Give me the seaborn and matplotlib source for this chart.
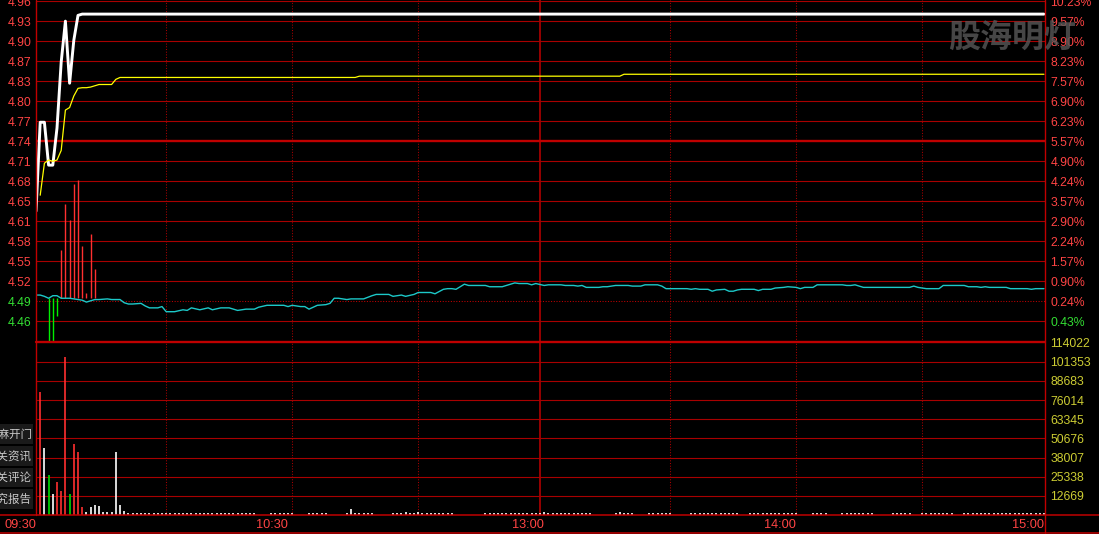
import numpy as np
import pandas as pd
import matplotlib
matplotlib.use("Agg")
import matplotlib.pyplot as plt
import matplotlib.transforms as mtransforms
from matplotlib.lines import Line2D
from matplotlib.patches import Rectangle
import seaborn as sns

# ------------------------------------------------------------------ data
# minute index: 0 = 09:30 ... 120 = 11:30/13:00 ... 240 = 15:00
price_min = [0, 1, 2, 3, 4, 5, 6, 7, 8, 9, 10, 11, 240]
price_val = [4.632, 4.771, 4.771, 4.704, 4.704, 4.762, 4.865, 4.929, 4.832,
             4.899, 4.938, 4.940, 4.940]

avg_min = [1, 2, 3, 4, 5, 6, 7, 8, 9, 10, 11, 12, 13, 14, 15, 18, 19, 20,
           76, 77, 139, 140, 240]
avg_val = [4.657, 4.707, 4.712, 4.710, 4.712, 4.727, 4.790, 4.794, 4.812,
           4.824, 4.825, 4.825, 4.826, 4.828, 4.830, 4.830, 4.838, 4.841,
           4.841, 4.843, 4.843, 4.846, 4.846]

cyan_min = [0, 1, 2, 3, 4, 5, 6, 8, 10, 11, 12, 13, 14, 15, 17, 18, 20, 21,
            22, 23, 25, 26, 27, 29, 30, 31, 33, 35, 36, 37, 39, 41, 42, 44,
            46, 48, 50, 52, 53, 55, 59, 60, 61, 63, 64, 65, 67, 69, 70, 71,
            72, 74, 75, 78, 80, 81, 84, 85, 87, 88, 90, 91, 94, 95, 97, 98,
            99, 100, 101, 102, 103, 107, 108, 111, 112, 114, 115, 117, 118,
            119, 121, 122, 125, 126, 128, 129, 130, 131, 134, 135, 136, 137,
            138, 141, 142, 144, 145, 148, 149, 150, 155, 156, 157, 158, 160,
            161, 162, 164, 165, 166, 167, 168, 171, 172, 173, 175, 176, 178,
            179, 181, 182, 183, 185, 186, 192, 193, 194, 195, 196, 197, 208,
            209, 210, 212, 215, 216, 221, 222, 224, 225, 226, 227, 231, 232,
            236, 237, 238, 240]
cyan_val = [4.501, 4.501, 4.499, 4.496, 4.500, 4.500, 4.496, 4.496, 4.494,
            4.493, 4.490, 4.492, 4.494, 4.494, 4.495, 4.494, 4.494, 4.489,
            4.487, 4.487, 4.488, 4.484, 4.481, 4.481, 4.483, 4.475, 4.475,
            4.478, 4.477, 4.481, 4.478, 4.481, 4.478, 4.481, 4.481, 4.477,
            4.479, 4.479, 4.482, 4.485, 4.485, 4.483, 4.485, 4.483, 4.483,
            4.479, 4.485, 4.486, 4.488, 4.496, 4.496, 4.494, 4.495, 4.495,
            4.500, 4.502, 4.502, 4.499, 4.501, 4.499, 4.502, 4.505, 4.505,
            4.503, 4.510, 4.511, 4.511, 4.510, 4.514, 4.518, 4.516, 4.516,
            4.514, 4.514, 4.516, 4.520, 4.519, 4.519, 4.517, 4.519, 4.516,
            4.517, 4.517, 4.516, 4.516, 4.515, 4.516, 4.513, 4.513, 4.514,
            4.514, 4.515, 4.516, 4.516, 4.515, 4.515, 4.517, 4.517, 4.515,
            4.511, 4.511, 4.510, 4.511, 4.510, 4.510, 4.507, 4.509, 4.510,
            4.507, 4.507, 4.509, 4.510, 4.510, 4.508, 4.510, 4.510, 4.512,
            4.513, 4.514, 4.513, 4.511, 4.513, 4.513, 4.517, 4.517, 4.516,
            4.516, 4.517, 4.515, 4.513, 4.513, 4.515, 4.513, 4.511, 4.511,
            4.516, 4.516, 4.514, 4.514, 4.513, 4.514, 4.513, 4.513, 4.511,
            4.511, 4.510, 4.511, 4.511]

# buying/selling strength bars in the price panel (from the base level)
force_base = 4.497
force_min = [3, 4, 5, 6, 7, 8, 9, 10, 11, 12, 13, 14]
force_top = [4.430, 4.430, 4.468, 4.571, 4.644, 4.618, 4.674, 4.681, 4.578,
             4.505, 4.597, 4.541]

# volume per minute
vol_head_min = list(range(1, 25))
vol_head = [81600, 44540, 26470, 13900, 21840, 15880, 104760, 13900, 46990,
            41690, 5500, 2200, 5100, 6620, 5960, 2200, 2200, 2200, 41690,
            6620, 2850, 1100, 1000, 1000]
# minutes 25..240, in units of 1000 shares (tiny prints)
vol_tail_units = ("1111111111" "1111111111" "1111111100" "0111111000"
                  "1111100001" "4111110000" "1112112111" "1111100000"
                  "0011111111" "1111112111" "1111111100" "0001211100"
                  "0111111000" "0111111111" "1110011111" "1111111000"
                  "1111000111" "1111100001" "1111001111" "1111001111"
                  "1111111111" "111111")
vol_unit = 1000

price_labels = ["4.46", "4.49", "4.52", "4.55", "4.58", "4.61", "4.65", "4.68",
                "4.71", "4.74", "4.77", "4.80", "4.83", "4.87", "4.90", "4.93",
                "4.96"]
pct_labels = ["0.43%", "0.24%", "0.90%", "1.57%", "2.24%", "2.90%", "3.57%",
              "4.24%", "4.90%", "5.57%", "6.23%", "6.90%", "7.57%", "8.23%",
              "8.90%", "9.57%", "10.23%"]
vol_labels = ["12669", "25338", "38007", "50676", "63345", "76014", "88683",
              "101353", "114022"]
time_labels = ["09:30", "10:30", "13:00", "14:00", "15:00"]
time_label_min = [0, 60, 121, 181, 240]
grid_minutes = [31, 61, 91, 151, 181, 211]
side_labels = ["芝麻开门", "相关资讯", "相关评论", "研究报告"]
watermark = "股海明灯"

# ------------------------------------------------------------------ style
sns.set_theme(style="dark", rc={"axes.facecolor": "black",
                                "figure.facecolor": "black"})
plt.rcParams['font.family'] = ['Liberation Sans', 'Noto Sans CJK SC', 'DejaVu Sans']

RED_GRID = '#A80000'
RED_THICK = '#C00000'
RED_TXT = '#FF4444'
GREEN_TXT = '#33DD33'
YEL_TXT = '#CCCC33'

W, H = 1099, 534
L, R = 36, 1045
fig = plt.figure(figsize=(W / 100, H / 100), dpi=100, facecolor='black')

ax_p = fig.add_axes([L / W, 1 - 342 / H, (R - L) / W, 342 / H])
ax_v = fig.add_axes([L / W, 1 - 515 / H, (R - L) / W, 173 / H])

# ---- price panel lines
df_price = pd.DataFrame({"minute": price_min, "price": price_val})
df_avg = pd.DataFrame({"minute": avg_min, "price": avg_val})
df_cyan = pd.DataFrame({"minute": cyan_min, "price": cyan_val})

force_colors = ['#FF3030' if t > force_base else '#00EE00' for t in force_top]
ax_p.vlines(force_min, force_base, force_top, colors=force_colors,
            linewidth=1.0, zorder=3)
sns.lineplot(data=df_cyan, x="minute", y="price", ax=ax_p, color='#1CC8C8',
             linewidth=1.0, errorbar=None, zorder=4)
sns.lineplot(data=df_price, x="minute", y="price", ax=ax_p, color='white',
             linewidth=2.1, errorbar=None, zorder=5)
sns.lineplot(data=df_avg, x="minute", y="price", ax=ax_p, color='#FFFF00',
             linewidth=0.9, errorbar=None, zorder=6)

# ---- volume panel
tail_min = list(range(25, 25 + len(vol_tail_units)))
tail_vol = [int(c) * vol_unit for c in vol_tail_units]
all_min = vol_head_min + tail_min
all_vol = vol_head + tail_vol
pm = dict(zip(price_min, price_val))
def vol_color(m):
    if m in pm and (m - 1) in pm:
        if pm[m] > pm[m - 1] + 1e-9:
            return '#FF3030'
        if pm[m] < pm[m - 1] - 1e-9:
            return '#00DD00'
    return 'white'
keep = [(m, v) for m, v in zip(all_min, all_vol) if v > 0]
ax_v.vlines([m for m, v in keep], 0, [v for m, v in keep],
            colors=[vol_color(m) for m, v in keep], linewidth=1.2, zorder=3)

# ---- axes limits / grids
xmax = (R - L) / 4.2
step = 0.03125
price_ticks = [4.46 + step * k for k in range(len(price_labels))]
ptop = 4.96 + 1.3 * step / 20
pbot = 4.96 - 340.7 * step / 20
vstep = 114022 / 9
vol_ticks = [vstep * (k + 1) for k in range(len(vol_labels))]

for ax in (ax_p, ax_v):
    ax.set_facecolor('black')
    ax.set_xlim(0, xmax)
    for s in ax.spines.values():
        s.set_visible(False)
    ax.grid(False)
    ax.set_xlabel('')
    ax.set_ylabel('')
    ax.set_xticks([])
    for gm in grid_minutes:
        ax.axvline(gm, color=RED_GRID, lw=0.75, ls=(0, (1, 1.6)), zorder=1)
    ax.axvline(120, color=RED_THICK, lw=1.1, zorder=1)

ax_p.set_ylim(pbot, ptop)
ax_v.set_ylim(0, 114022 * 173 / 172.3)

for t, lab in zip(price_ticks, price_labels):
    if lab == "4.49":
        ax_p.axhline(t, color=RED_THICK, lw=0.75, ls=(0, (1, 1.6)), zorder=1)
    elif lab == "4.74":
        ax_p.axhline(t, color=RED_THICK, lw=1.7, zorder=1)
    else:
        ax_p.axhline(t, color=RED_GRID, lw=0.8, zorder=1)
for t in vol_ticks[:-1]:
    ax_v.axhline(t, color=RED_GRID, lw=0.8, zorder=1)

# left price labels
ax_p.set_yticks(price_ticks)
ax_p.set_yticklabels(price_labels)
ax_p.tick_params(axis='y', length=0, pad=3, labelsize=8.8)
for lbl, lab in zip(ax_p.get_yticklabels(), price_labels):
    lbl.set_color(GREEN_TXT if lab in ("4.46", "4.49") else RED_TXT)

# right percent labels
ax_r = ax_p.twinx()
ax_r.set_ylim(pbot, ptop)
for s in ax_r.spines.values():
    s.set_visible(False)
ax_r.grid(False)
ax_r.set_yticks(price_ticks)
ax_r.set_yticklabels(pct_labels)
ax_r.tick_params(axis='y', length=0, pad=4, labelsize=8.8)
for lbl, lab in zip(ax_r.get_yticklabels(), pct_labels):
    lbl.set_color(GREEN_TXT if lab == "0.43%" else RED_TXT)

# right volume labels
ax_v.yaxis.tick_right()
ax_v.set_yticks(vol_ticks)
ax_v.set_yticklabels(vol_labels)
ax_v.tick_params(axis='y', length=0, pad=4, labelsize=8.8, labelcolor=YEL_TXT)

# time labels
tr = mtransforms.blended_transform_factory(ax_v.transData, ax_v.transAxes)
for m, lab in zip(time_label_min, time_labels):
    ax_v.text(m, -10 / 173, lab, transform=tr, ha='right', va='center',
              color=RED_TXT, fontsize=9.2, clip_on=False)

# ---- frame lines (figure pixels)
def fx(px):
    return px / W
def fy(py):
    return 1 - py / H
frame = [
    ((L, L), (0, 515), 1.0, RED_THICK),
    ((R, R), (0, 534), 1.0, RED_THICK),
    ((L, R), (342, 342), 1.7, RED_THICK),
    ((0, W), (515, 515), 1.1, RED_THICK),
    ((0, W), (533, 533), 1.1, RED_THICK),
]
for xs, ys, lw, c in frame:
    fig.add_artist(Line2D([fx(xs[0]), fx(xs[1])], [fy(ys[0]), fy(ys[1])],
                          transform=fig.transFigure, color=c, lw=lw, zorder=10))

# ---- left side buttons
boxes = [(424.3, 444), (446, 465.7), (467.7, 487), (489, 509)]
for (y0, y1), lab in zip(boxes, side_labels):
    fig.add_artist(Rectangle((0, fy(y1)), fx(33), (y1 - y0) / H,
                             transform=fig.transFigure, facecolor='#1A1A1A',
                             edgecolor='none', zorder=8))
    fig.text(fx(32), fy((y0 + y1) / 2), lab, ha='right', va='center',
             color='#C8C8C8', fontsize=8.3, family=['Noto Sans CJK SC'],
             zorder=9)

# ---- watermark
fig.text(fx(1012), fy(38), watermark, ha='center', va='center',
         color='#585858', alpha=0.8, fontsize=23, fontweight='bold',
         family=['Noto Sans CJK SC'], zorder=20)

fig.savefig("out.png", dpi=100, facecolor='black')
